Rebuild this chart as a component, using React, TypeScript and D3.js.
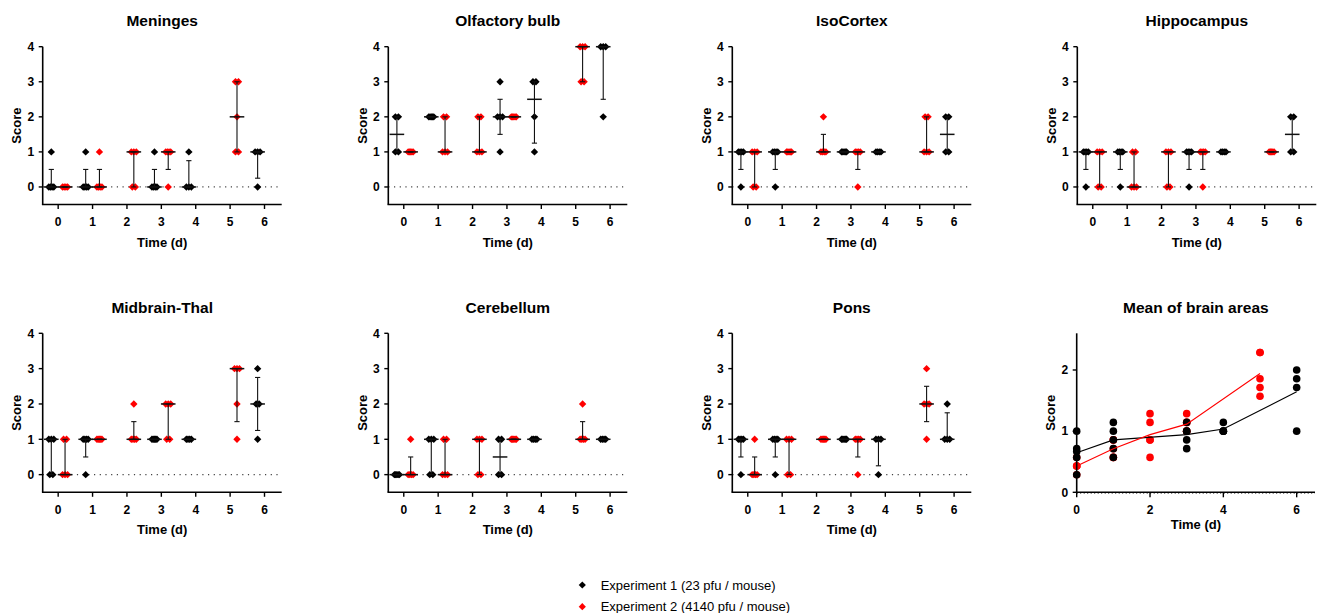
import React from 'react';
import * as d3 from 'd3';

// ---------- data ----------
const daysExp1 = [0, 1, 3, 4, 6];
const daysExp2 = [0, 1, 2, 3, 5];
const xTickValues = [0, 1, 2, 3, 4, 5, 6];
const yTickValues = [0, 1, 2, 3, 4];
const meanXTickValues = [0, 2, 4, 6];
const meanYTickValues = [0, 1, 2];

const panelTitles = ['Meninges', 'Olfactory bulb', 'IsoCortex', 'Hippocampus', 'Midbrain-Thal', 'Cerebellum', 'Pons'];

const meningesExp1 = [[0, 0, 0, 0, 1], [0, 0, 0, 0, 1], [0, 0, 0, 0, 1], [0, 0, 0, 1], [0, 1, 1, 1]];
const meningesExp2 = [[0, 0, 0, 0], [0, 0, 0, 0, 1], [0, 0, 1, 1, 1], [0, 1, 1, 1, 1], [1, 1, 2, 3, 3]];
const olfactoryExp1 = [[1, 1, 2, 2], [2, 2, 2, 2, 2], [1, 2, 2, 2, 3], [1, 2, 3, 3], [2, 4, 4, 4]];
const olfactoryExp2 = [[1, 1, 1, 1, 1], [1, 1, 1, 2, 2], [1, 1, 1, 2, 2], [2, 2, 2, 2, 2], [3, 3, 4, 4, 4]];
const isoCortexExp1 = [[0, 1, 1, 1, 1], [0, 1, 1, 1, 1], [1, 1, 1, 1, 1], [1, 1, 1, 1], [1, 1, 2, 2]];
const isoCortexExp2 = [[0, 0, 1, 1, 1], [1, 1, 1, 1, 1], [1, 1, 1, 1, 2], [0, 1, 1, 1, 1], [1, 1, 1, 2, 2]];
const hippocampusExp1 = [[0, 1, 1, 1, 1], [0, 1, 1, 1, 1], [0, 1, 1, 1, 1], [1, 1, 1, 1], [1, 1, 2, 2]];
const hippocampusExp2 = [[0, 0, 1, 1, 1], [0, 0, 0, 1, 1], [0, 0, 1, 1, 1], [0, 1, 1, 1, 1], [1, 1, 1, 1, 1]];
const midbrainExp1 = [[0, 0, 1, 1, 1], [0, 1, 1, 1, 1], [1, 1, 1, 1, 1], [1, 1, 1, 1], [1, 2, 2, 3]];
const midbrainExp2 = [[0, 0, 0, 1, 1], [1, 1, 1, 1, 1], [1, 1, 1, 1, 2], [1, 1, 2, 2, 2], [1, 2, 3, 3, 3]];
const cerebellumExp1 = [[0, 0, 0, 0, 0], [0, 0, 1, 1, 1], [0, 0, 1, 1], [1, 1, 1, 1], [1, 1, 1, 1]];
const cerebellumExp2 = [[0, 0, 0, 0, 1], [0, 0, 0, 1, 1], [0, 0, 1, 1, 1], [1, 1, 1, 1, 1], [1, 1, 1, 1, 2]];
const ponsExp1 = [[0, 1, 1, 1, 1], [0, 1, 1, 1, 1], [1, 1, 1, 1, 1], [0, 1, 1, 1], [1, 1, 1, 2]];
const ponsExp2 = [[0, 0, 0, 0, 1], [0, 0, 1, 1, 1], [1, 1, 1, 1, 1], [0, 1, 1, 1, 1], [1, 2, 2, 2, 3]];

const meanExp1 = [
  [1.0, 0.714, 0.667, 0.571, 0.286],
  [1.143, 1.0, 0.857, 0.714, 0.571],
  [1.143, 1.0, 1.0, 0.857, 0.714],
  [1.143, 1.0, 1.0, 1.0],
  [2.0, 1.857, 1.714, 1.0],
];
const meanExp2 = [
  [0.286, 0.429, 0.429, 0.429, 0.571],
  [0.571, 0.571, 0.714, 0.857, 0.857],
  [1.286, 1.143, 0.857, 0.857, 0.571],
  [1.286, 1.143, 1.143, 1.0, 1.0],
  [2.286, 2.286, 1.857, 1.714, 1.571],
];

const legendLabels = ['Experiment 1 (23 pfu / mouse)', 'Experiment 2 (4140 pfu / mouse)'];

// ---------- styling / layout ----------
const FONT = '"Liberation Sans", Arial, sans-serif';
const RED = '#ff0000';
const BLACK = '#000000';
const colLeft = [42.7, 388.3, 732.3, 1077.3];
const rowTop = [46.7, 333.3];
const rowBottom = [204.5, 492.3];
const AXIS_W = 239;

const panelData = [
  [meningesExp1, meningesExp2],
  [olfactoryExp1, olfactoryExp2],
  [isoCortexExp1, isoCortexExp2],
  [hippocampusExp1, hippocampusExp2],
  [midbrainExp1, midbrainExp2],
  [cerebellumExp1, cerebellumExp2],
  [ponsExp1, ponsExp2],
];

function prismQuantile(values: number[], p: number) {
  const s = [...values].sort((a, b) => a - b);
  const n = s.length;
  const pos = p * (n + 1);
  if (pos <= 1) return s[0];
  if (pos >= n) return s[n - 1];
  const lo = Math.floor(pos);
  const f = pos - lo;
  return s[lo - 1] + f * (s[lo] - s[lo - 1]);
}

const diamond = (r: number) => `M0,${-r}L${r},0L0,${r}L${-r},0Z`;

function swarm(values: number[]) {
  const counts = new Map<number, number>();
  values.forEach((v) => counts.set(v, (counts.get(v) || 0) + 1));
  const seen = new Map<number, number>();
  return values.map((v) => {
    const k = counts.get(v) || 1;
    const i = seen.get(v) || 0;
    seen.set(v, i + 1);
    const spread = Math.min(5, 3 * (k - 1));
    const off = k > 1 ? -spread / 2 + (spread * i) / (k - 1) : 0;
    return { v, off };
  });
}

function ScorePanel({ title, exp1, exp2, left, top, bottom }: any) {
  const x = d3.scaleLinear().domain([-0.45, 6.5]).range([left, left + AXIS_W]);
  const y = d3.scaleLinear().domain([-0.5, 4]).range([bottom, top]);
  const groups: any[] = [];
  exp1.forEach((vals: number[], i: number) => groups.push({ day: daysExp1[i], shift: -0.2, vals, color: BLACK }));
  exp2.forEach((vals: number[], i: number) => groups.push({ day: daysExp2[i], shift: 0.2, vals, color: RED }));
  const cx = (left + left + AXIS_W) / 2;
  return (
    <g>
      <text x={cx} y={top - 20.5} textAnchor="middle" fontFamily={FONT} fontWeight="bold" fontSize={15.5}>{title}</text>
      {/* zero line */}
      <line x1={x(-0.45)} x2={x(6.5)} y1={y(0)} y2={y(0)} stroke="#444" strokeWidth={1.2} strokeDasharray="1.2,4.5" />
      {/* points */}
      {groups.map((g, gi) =>
        swarm(g.vals).map((p, pi) => (
          <path key={`${gi}-${pi}`} d={diamond(3.7)} transform={`translate(${x(g.day + g.shift) + p.off},${y(p.v)})`} fill={g.color} />
        ))
      )}
      {/* median + IQR */}
      {groups.map((g, gi) => {
        const cxg = x(g.day + g.shift);
        const med = d3.median(g.vals) as number;
        const q1 = prismQuantile(g.vals, 0.25);
        const q3 = prismQuantile(g.vals, 0.75);
        return (
          <g key={`s${gi}`} stroke="#111" strokeWidth={1.1}>
            <line x1={cxg} x2={cxg} y1={y(q1)} y2={y(q3)} />
            <line x1={cxg - 2.6} x2={cxg + 2.6} y1={y(q1)} y2={y(q1)} />
            <line x1={cxg - 2.6} x2={cxg + 2.6} y1={y(q3)} y2={y(q3)} />
            <line x1={cxg - 7.3} x2={cxg + 7.3} y1={y(med)} y2={y(med)} strokeWidth={1.5} />
          </g>
        );
      })}
      {/* axes */}
      <line x1={left} x2={left} y1={top} y2={bottom} stroke={BLACK} strokeWidth={1.6} />
      <line x1={left - 0.8} x2={left + AXIS_W} y1={bottom} y2={bottom} stroke={BLACK} strokeWidth={1.6} />
      {yTickValues.map((t) => (
        <g key={`yt${t}`}>
          <line x1={left - 4} x2={left} y1={y(t)} y2={y(t)} stroke={BLACK} strokeWidth={1.4} />
          <text x={left - 8.5} y={y(t) + 4.3} textAnchor="end" fontFamily={FONT} fontWeight="bold" fontSize={12}>{t}</text>
        </g>
      ))}
      {xTickValues.map((t) => (
        <g key={`xt${t}`}>
          <line x1={x(t)} x2={x(t)} y1={bottom} y2={bottom + 4.5} stroke={BLACK} strokeWidth={1.4} />
          <text x={x(t)} y={bottom + 21.5} textAnchor="middle" fontFamily={FONT} fontWeight="bold" fontSize={12}>{t}</text>
        </g>
      ))}
      <text x={cx} y={bottom + 42} textAnchor="middle" fontFamily={FONT} fontWeight="bold" fontSize={13}>Time (d)</text>
      <text transform={`translate(${left - 21.5},${(top + bottom) / 2}) rotate(-90)`} textAnchor="middle" fontFamily={FONT} fontWeight="bold" fontSize={13}>Score</text>
    </g>
  );
}

function MeanPanel({ left, top, bottom }: any) {
  const x = d3.scaleLinear().domain([0, 6.5]).range([left, left + 238.3]);
  const y = d3.scaleLinear().domain([0, 2.6]).range([bottom, top]);
  const line = d3.line<[number, number]>().x((d) => x(d[0])).y((d) => y(d[1]));
  const m1 = meanExp1.map((v, i) => [daysExp1[i], d3.mean(v) as number] as [number, number]);
  const m2 = meanExp2.map((v, i) => [daysExp2[i], d3.mean(v) as number] as [number, number]);
  const right = left + 238.3;
  const cx = (left + right) / 2;
  return (
    <g>
      <text x={cx} y={top - 20.5} textAnchor="middle" fontFamily={FONT} fontWeight="bold" fontSize={15.5}>Mean of brain areas</text>
      {meanExp2.map((vals, i) => vals.map((v, j) => (
        <circle key={`r${i}-${j}`} cx={x(daysExp2[i])} cy={y(v)} r={3.8} fill={RED} />
      )))}
      {meanExp1.map((vals, i) => vals.map((v, j) => (
        <circle key={`b${i}-${j}`} cx={x(daysExp1[i])} cy={y(v)} r={3.8} fill={BLACK} />
      )))}
      <path d={line(m1) || ''} fill="none" stroke={BLACK} strokeWidth={1.1} />
      <path d={line(m2) || ''} fill="none" stroke={RED} strokeWidth={1.1} />
      <line x1={left} x2={left} y1={top} y2={bottom} stroke={BLACK} strokeWidth={1.6} />
      <line x1={left - 0.8} x2={right} y1={bottom} y2={bottom} stroke={BLACK} strokeWidth={1.6} />
      <line x1={left} x2={right} y1={bottom + 1.2} y2={bottom + 1.2} stroke="#666" strokeWidth={1} strokeDasharray="1,2.5" />
      {meanYTickValues.map((t) => (
        <g key={`myt${t}`}>
          <line x1={left - 4} x2={left} y1={y(t)} y2={y(t)} stroke={BLACK} strokeWidth={1.4} />
          <text x={left - 8.5} y={y(t) + 4.3} textAnchor="end" fontFamily={FONT} fontWeight="bold" fontSize={12}>{t}</text>
        </g>
      ))}
      {meanXTickValues.map((t) => (
        <g key={`mxt${t}`}>
          <line x1={x(t)} x2={x(t)} y1={bottom} y2={bottom + 5} stroke={BLACK} strokeWidth={1.4} />
          <text x={x(t)} y={bottom + 21.5} textAnchor="middle" fontFamily={FONT} fontWeight="bold" fontSize={12}>{t}</text>
        </g>
      ))}
      <text x={cx} y={bottom + 37} textAnchor="middle" fontFamily={FONT} fontWeight="bold" fontSize={13}>Time (d)</text>
      <text transform={`translate(${left - 21.5},${(top + bottom) / 2}) rotate(-90)`} textAnchor="middle" fontFamily={FONT} fontWeight="bold" fontSize={13}>Score</text>
    </g>
  );
}

export default function App() {
  return (
    <svg width={1319} height={613} style={{ position: 'absolute', left: 0, top: 0, display: 'block', background: '#fff' }}>
      {panelTitles.map((t, i) => {
        const row = Math.floor(i / 4);
        const col = i % 4;
        return (
          <ScorePanel key={t} title={t} exp1={panelData[i][0]} exp2={panelData[i][1]}
            left={colLeft[col]} top={rowTop[row]} bottom={rowBottom[row]} />
        );
      })}
      <MeanPanel left={1076.7} top={333.3} bottom={492.3} />
      {legendLabels.map((l, i) => (
        <g key={l}>
          <path d={diamond(3.6)} transform={`translate(582.3,${585 + i * 21.7})`} fill={i === 0 ? BLACK : RED} />
          <text x={600.7} y={585 + i * 21.7 + 4.5} fontFamily={FONT} fontSize={13}>{l}</text>
        </g>
      ))}
    </svg>
  );
}
